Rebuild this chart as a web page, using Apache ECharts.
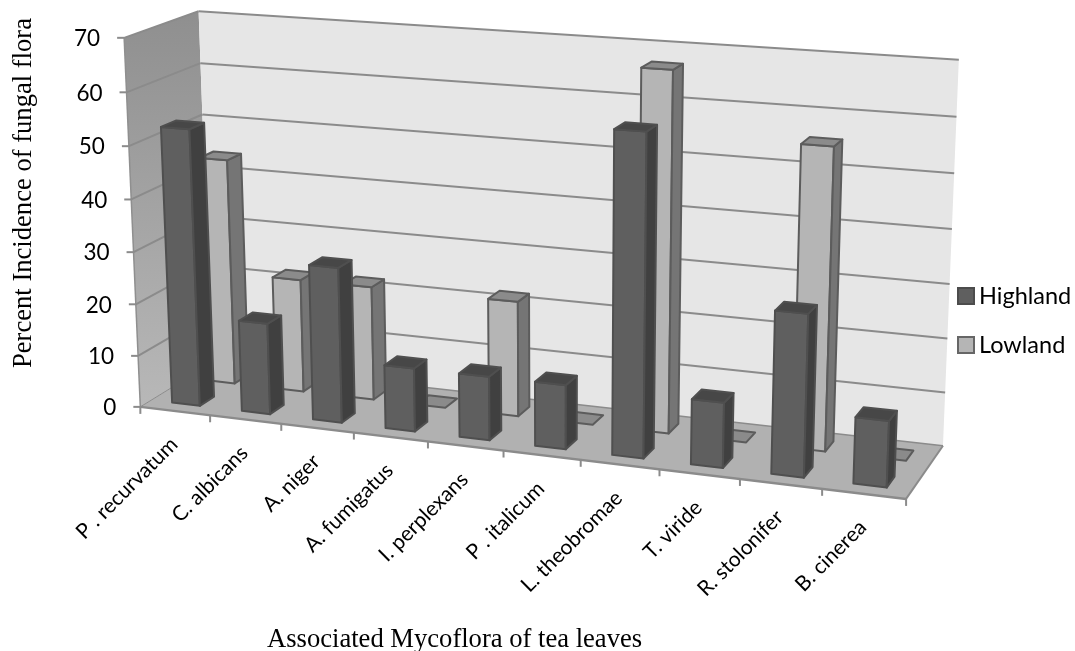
<!DOCTYPE html>
<html>
<head>
<meta charset="utf-8">
<style>html,body{margin:0;padding:0;background:#fff}#chart{width:1075px;height:651px}</style>
<script src="https://cdn.jsdelivr.net/npm/echarts@6/dist/echarts.min.js"></script>
</head>
<body>
<div id="chart"></div>
<script>
// Fungal incidence on tea leaves, drawn as a 3-D column chart.
const categories = ['P . recurvatum','C. albicans','A. niger','A. fumigatus','I. perplexans',
                    'P . italicum','L. theobromae','T. viride','R. stolonifer','B. cinerea'];
const highland = [53, 17.5, 29.5, 12, 12, 12, 59, 12, 29.5, 12];
const lowland  = [44, 22, 22, 0, 22, 0, 67, 0, 55.5, 0];
const valueTicks = [0, 10, 20, 30, 40, 50, 60, 70];
const valueMax = 70;

// Box layout: plotting grid equals the front-left edge of the box.
const GRID = {left: 141, top: 38, right: 906, bottom: 407};

// Reference points [x, y, z, screenX, screenY] of the unit box used to fit the camera.
const frontTicksX = [141,210,282,354,428,503,581,659,740,822,906];
const backRightY = [446,392,338,284,229,173,117,60];
const backLeftY  = [363,314,265,216,166,115,63,11];
const frontLeftY = [407,356,304,252,199,146,92,38];
function cameraAnchors() {
  const a = [];
  frontTicksX.forEach((sx, i) => a.push([i / 10, 0, 0, sx, 407 + (sx - 141) * 0.1203]));
  for (let k = 0; k < 8; k++) {
    a.push([1, k / 7, 1, 943 + 15.7 * k / 7, backRightY[k]]);
    a.push([0, k / 7, 1, 211 - 12 * k / 7, backLeftY[k]]);
    a.push([0, k / 7, 0, 140.5 - 16.5 * k / 7, frontLeftY[k]]);
  }
  return a;
}

// Least-squares fit of a projective camera (normal equations, Gaussian elimination).
function fitCamera(anchors) {
  const n = 11, A = [], b = new Array(n).fill(0);
  for (let i = 0; i < n; i++) A.push(new Array(n).fill(0));
  function add(row, rhs) {
    for (let i = 0; i < n; i++) {
      b[i] += row[i] * rhs;
      for (let j = 0; j < n; j++) A[i][j] += row[i] * row[j];
    }
  }
  anchors.forEach(([x, y, z, sx, sy]) => {
    const u = sx / 1000, v = sy / 1000;
    add([x, y, z, 1, 0, 0, 0, 0, -u * x, -u * y, -u * z], u);
    add([0, 0, 0, 0, x, y, z, 1, -v * x, -v * y, -v * z], v);
  });
  for (let c = 0; c < n; c++) {
    let p = c;
    for (let r = c + 1; r < n; r++) if (Math.abs(A[r][c]) > Math.abs(A[p][c])) p = r;
    [A[c], A[p]] = [A[p], A[c]]; [b[c], b[p]] = [b[p], b[c]];
    for (let r = 0; r < n; r++) {
      if (r === c) continue;
      const f = A[r][c] / A[c][c];
      for (let j = c; j < n; j++) A[r][j] -= f * A[c][j];
      b[r] -= f * b[c];
    }
  }
  return b.map((val, i) => val / A[i][i]);
}
const cam = fitCamera(cameraAnchors());
function project(x, y, z) {
  const w = cam[8] * x + cam[9] * y + cam[10] * z + 1;
  return [1000 * (cam[0] * x + cam[1] * y + cam[2] * z + cam[3]) / w,
          1000 * (cam[4] * x + cam[5] * y + cam[6] * z + cam[7]) / w];
}

// Pixel positions from the hidden cartesian axes become unit-box coordinates.
const unitX = px => (px - GRID.left) / (GRID.right - GRID.left);
const unitY = py => (GRID.bottom - py) / (GRID.bottom - GRID.top);

function face(points, fill, stroke, width) {
  return {type: 'polygon', shape: {points}, style: {fill, stroke: stroke || null, lineWidth: width || 0, lineJoin: 'round'}};
}
function segment(p, q, stroke, width) {
  return {type: 'line', shape: {x1: p[0], y1: p[1], x2: q[0], y2: q[1]}, style: {stroke, lineWidth: width}};
}

// One column: gap width and gap depth leave 40% of each band and row to the bar.
function columnItem(zFront, zBack, fills) {
  return function (params, api) {
    const idx = api.value(0);
    const top = api.coord([idx, api.value(1)]);
    const base = api.coord([idx, 0]);
    const band = api.size([1, 0])[0];
    const x0 = unitX(top[0] - band * 0.2), x1 = unitX(top[0] + band * 0.2);
    const y0 = unitY(base[1]), y1 = unitY(top[1]);
    const children = [];
    const edge = fills.edge;
    if (y1 > y0) {
      children.push(face([project(x0,y0,zFront), project(x1,y0,zFront), project(x1,y1,zFront), project(x0,y1,zFront)], fills.front, edge, 2));
      children.push(face([project(x1,y0,zFront), project(x1,y0,zBack), project(x1,y1,zBack), project(x1,y1,zFront)], fills.side, edge, 2));
    }
    children.push(face([project(x0,y1,zFront), project(x1,y1,zFront), project(x1,y1,zBack), project(x0,y1,zBack)], fills.top, edge, 2));
    return {type: 'group', children};
  };
}

// Walls, floor, gridlines, ticks and tick labels of the box.
function boxItem(params, api) {
  const corner = (x, y, z) => project(x, y, z);
  const grid = '#8b8b8b';
  const children = [
    face([corner(0,0,0), corner(0,0,1), corner(0,1,1), corner(0,1,0)],
         new echarts.graphic.LinearGradient(0, 0, 0, 1, [{offset: 0, color: '#8f8f8f'}, {offset: 1, color: '#b8b8b8'}])),
    face([corner(0,0,1), corner(1,0,1), corner(1,1,1), corner(0,1,1)], '#e6e6e6'),
    face([corner(0,0,0), corner(1,0,0), corner(1,0,1), corner(0,0,1)], '#b1b1b1'),
    segment(corner(0,0,0), corner(0,1,0), '#8f8f8f', 1.5)
  ];
  valueTicks.forEach(t => {
    const y = unitY(api.coord([0, t])[1]);
    const front = corner(0, y, 0), back = corner(0, y, 1), right = corner(1, y, 1);
    if (t > 0) {
      children.push(segment(front, back, grid, 2));
      children.push(segment(back, right, grid, 2));
    }
    children.push(segment(front, [front[0] - 7, front[1]], grid, 2));
    children.push({type: 'text', style: {text: String(t), x: front[0] - 24, y: front[1] + 1, fill: '#000',
      font: '22.5px Lato', textAlign: 'right', textVerticalAlign: 'middle'}});
  });
  children.push(segment(corner(0,0,0), corner(1,0,0), grid, 2.5));
  children.push(segment(corner(1,0,0), corner(1,0,1), grid, 2));
  children.push(segment(corner(0,0,0), corner(0,0,1), grid, 1));
  children.push(segment(corner(0,0,1), corner(1,0,1), grid, 1.5));

  for (let i = 0; i <= categories.length; i++) {
    const p = corner(i / categories.length, 0, 0);
    children.push(segment(p, [p[0], p[1] + 7], grid, 2));
  }
  categories.forEach((name, i) => {
    const c = api.coord([i, 0]);
    const p = corner(unitX(c[0]), 0, 0);
    children.push({type: 'text', x: p[0] - 1, y: p[1] + 30, rotation: Math.PI / 4,
      style: {text: name, x: 0, y: 0, fill: '#000', font: '21px Lato', textAlign: 'right', textVerticalAlign: 'middle'}});
  });
  return {type: 'group', children};
}

const chart = echarts.init(document.getElementById('chart'), null, {renderer: 'canvas'});
chart.setOption({
  animation: false,
  backgroundColor: '#fff',
  grid: {left: GRID.left, top: GRID.top, width: GRID.right - GRID.left, height: GRID.bottom - GRID.top, show: false},
  xAxis: {type: 'category', data: categories, show: false},
  yAxis: {type: 'value', min: 0, max: valueMax, interval: 10, show: false},
  legend: {
    orient: 'vertical', left: 957, top: 284, padding: 0, itemWidth: 16, itemHeight: 16, itemGap: 25, icon: 'rect',
    data: ['Highland', 'Lowland'],
    textStyle: {fontFamily: 'Lato', fontSize: 23.5, color: '#000'}
  },
  graphic: [
    {type: 'text', x: 267, y: 640, style: {text: 'Associated Mycoflora of tea leaves', x: 0, y: 0, font: '26.6px "Liberation Serif"', fill: '#000', textVerticalAlign: 'middle'}},
    {type: 'text', x: 24, y: 193, rotation: Math.PI / 2,
     style: {text: 'Percent Incidence of fungal flora', x: 0, y: 0, font: '26.6px "Liberation Serif"', fill: '#000', textAlign: 'center', textVerticalAlign: 'middle'}}
  ],
  series: [
    {type: 'custom', name: 'box', coordinateSystem: 'cartesian2d', renderItem: boxItem, data: [[0, 0]], silent: true, z: 1},
    {type: 'custom', name: 'Lowland', coordinateSystem: 'cartesian2d', z: 2, encode: {x: 0, y: 1},
     itemStyle: {color: '#b5b5b5', borderColor: '#666666', borderWidth: 1.5},
     renderItem: columnItem(0.65, 0.85, {front: '#b5b5b5', side: '#757575', top: '#8b8b8b', edge: '#5c5c5c'}),
     data: lowland.map((v, i) => [i, v])},
    {type: 'custom', name: 'Highland', coordinateSystem: 'cartesian2d', z: 3, encode: {x: 0, y: 1},
     itemStyle: {color: '#5f5f5f', borderColor: '#4c4c4c', borderWidth: 1.5},
     renderItem: columnItem(0.15, 0.35, {front: '#5f5f5f', side: '#404040', top: '#474747', edge: '#4f4f4f'}),
     data: highland.map((v, i) => [i, v])}
  ]
});
</script>
</body>
</html>
